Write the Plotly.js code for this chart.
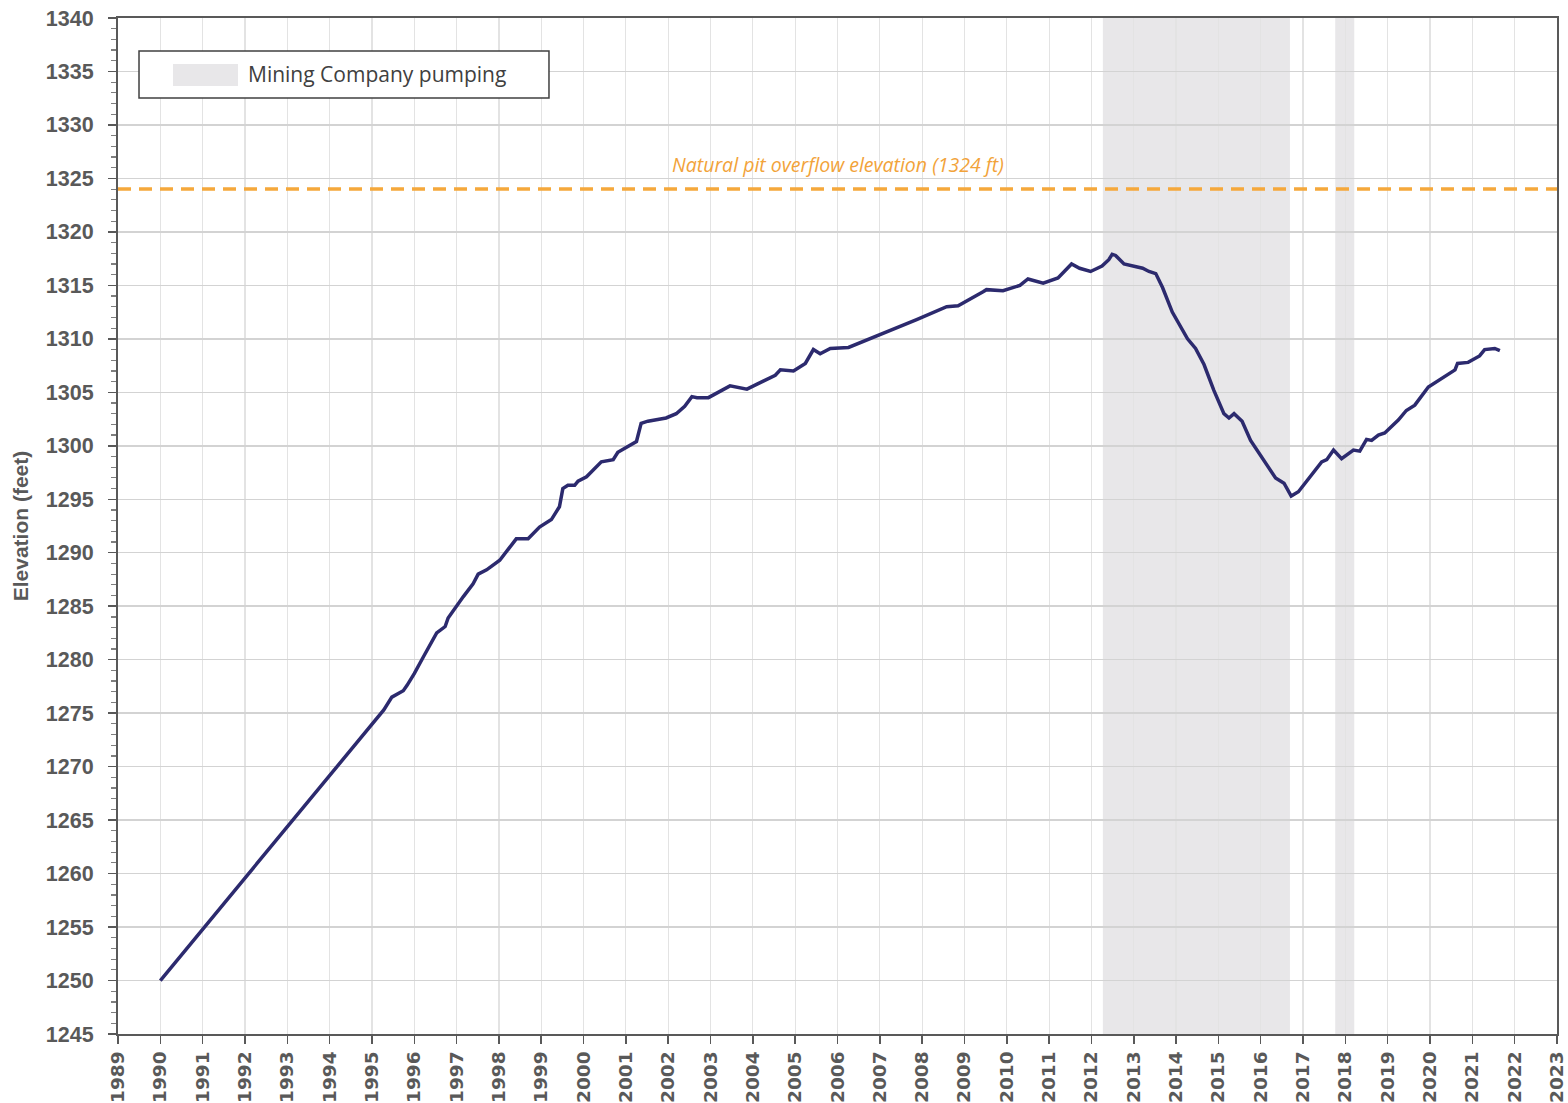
<!DOCTYPE html>
<html>
<head>
<meta charset="utf-8">
<script src="https://cdn.plot.ly/plotly-3.0.1.min.js"></script>
<style>
  html, body { margin: 0; padding: 0; background: #ffffff; }
  #chart { width: 1568px; height: 1103px; }
</style>
</head>
<body>
<div id="chart"></div>
<script>
// ---- Data ----
const years = [
  1990.0, 1994.89, 1995.28, 1995.47, 1995.74, 1995.83, 1996.0, 1996.22, 1996.39, 1996.53,
  1996.73, 1996.80, 1997.16, 1997.39, 1997.51, 1997.71, 1998.02, 1998.18, 1998.41, 1998.69,
  1998.96, 1999.24, 1999.43, 1999.51, 1999.63, 1999.79, 1999.87, 2000.07, 2000.42, 2000.70,
  2000.81, 2001.25, 2001.36, 2001.52, 2001.95, 2002.19, 2002.39, 2002.56, 2002.68, 2002.95,
  2003.46, 2003.86, 2004.33, 2004.53, 2004.65, 2004.96, 2005.24, 2005.43, 2005.59, 2005.83,
  2006.26, 2007.08, 2007.87, 2008.58, 2008.85, 2009.44, 2009.52, 2009.91, 2010.31, 2010.50,
  2010.86, 2011.21, 2011.53, 2011.72, 2011.98, 2012.25, 2012.41, 2012.49, 2012.57, 2012.77,
  2013.01, 2013.21, 2013.36, 2013.52, 2013.68, 2013.91, 2014.27, 2014.46, 2014.66, 2014.89,
  2015.13, 2015.25, 2015.37, 2015.56, 2015.76, 2016.12, 2016.35, 2016.55, 2016.72, 2016.89,
  2017.20, 2017.44, 2017.56, 2017.72, 2017.91, 2018.19, 2018.34, 2018.50, 2018.62, 2018.78,
  2018.93, 2019.25, 2019.44, 2019.64, 2019.96, 2020.11, 2020.27, 2020.47, 2020.59, 2020.65,
  2020.90, 2021.17, 2021.29, 2021.53, 2021.65
];
const elevation = [
  1250.0, 1273.4, 1275.3, 1276.5, 1277.1, 1277.6, 1278.7, 1280.3, 1281.6, 1282.5,
  1283.1, 1283.9, 1285.9, 1287.1, 1288.0, 1288.4, 1289.3, 1290.1, 1291.3, 1291.3,
  1292.4, 1293.1, 1294.3, 1296.0, 1296.3, 1296.3, 1296.7, 1297.1, 1298.5, 1298.7,
  1299.4, 1300.4, 1302.1, 1302.3, 1302.6, 1303.0, 1303.7, 1304.6, 1304.5, 1304.5,
  1305.6, 1305.3, 1306.2, 1306.6, 1307.1, 1307.0, 1307.7, 1309.0, 1308.6, 1309.1,
  1309.2, 1310.5, 1311.8, 1313.0, 1313.1, 1314.4, 1314.6, 1314.5, 1315.0, 1315.6,
  1315.2, 1315.7, 1317.0, 1316.6, 1316.3, 1316.8, 1317.4, 1317.9, 1317.8, 1317.0,
  1316.8, 1316.6, 1316.3, 1316.1, 1314.8, 1312.5, 1310.0, 1309.1, 1307.6, 1305.2,
  1303.0, 1302.6, 1303.0, 1302.3, 1300.5, 1298.4, 1297.0, 1296.5, 1295.3, 1295.7,
  1297.3, 1298.5, 1298.7, 1299.6, 1298.8, 1299.6, 1299.5, 1300.6, 1300.5, 1301.0,
  1301.2, 1302.4, 1303.3, 1303.8, 1305.5, 1305.9, 1306.3, 1306.8, 1307.1, 1307.7,
  1307.8, 1308.4, 1309.0, 1309.1, 1308.9
];
// Mining company pumping periods
const pumpingStart = [2012.27, 2017.76];
const pumpingEnd   = [2016.69, 2018.21];
const pumpingLabel = "Mining Company pumping";
// Natural pit overflow elevation
const overflowElevation = 1324;
const overflowLabel = "Natural pit overflow elevation (1324 ft)";
// Axis ticks
const xTickLabels = ["1989","1990","1991","1992","1993","1994","1995","1996","1997","1998","1999",
  "2000","2001","2002","2003","2004","2005","2006","2007","2008","2009","2010","2011","2012",
  "2013","2014","2015","2016","2017","2018","2019","2020","2021","2022","2023"];
const yTickValues = [1245,1250,1255,1260,1265,1270,1275,1280,1285,1290,1295,1300,1305,1310,1315,1320,1325,1330,1335,1340];

// ---- Styling ----
const axisGray = '#595959';
const lineColor = '#2c2a6e';
const orange = '#F5A83B';
const shadeColor = '#e8e7e9';

const traces = [{
  type: 'scatter',
  mode: 'lines',
  x: years,
  y: elevation,
  line: { color: lineColor, width: 3.5 },
  showlegend: false,
  hoverinfo: 'x+y'
}];

const shapes = [];
for (let i = 0; i < pumpingStart.length; i++) {
  shapes.push({
    type: 'rect', xref: 'x', yref: 'paper',
    x0: pumpingStart[i], x1: pumpingEnd[i], y0: 0, y1: 1,
    fillcolor: shadeColor, line: { width: 0 }, layer: 'below'
  });
}
// overflow line
shapes.push({
  type: 'line', xref: 'paper', yref: 'y',
  x0: 0, x1: 1, y0: overflowElevation, y1: overflowElevation,
  line: { color: orange, width: 3.5, dash: '13px,8px' }, layer: 'above'
});
// legend box (manual)
shapes.push({
  type: 'rect', xref: 'paper', yref: 'paper',
  x0: 0.0146, x1: 0.2995, y0: 0.9213, y1: 0.9675,
  fillcolor: 'rgba(255,255,255,1)', line: { color: '#404040', width: 1.5 }, layer: 'above'
});
shapes.push({
  type: 'rect', xref: 'paper', yref: 'paper',
  x0: 0.0382, x1: 0.0834, y0: 0.9331, y1: 0.9547,
  fillcolor: shadeColor, line: { width: 0 }, layer: 'above'
});

const annotations = [
  {
    xref: 'paper', yref: 'paper', x: 0.0889, y: 0.9445,
    xanchor: 'left', yanchor: 'middle', showarrow: false,
    text: pumpingLabel,
    font: { family: 'Open Sans, Liberation Sans, sans-serif', size: 21, color: '#404040' }
  },
  {
    xref: 'x', yref: 'y', x: 2006.0, y: overflowElevation,
    xanchor: 'center', yanchor: 'bottom', yshift: 9, showarrow: false,
    text: '<i>' + overflowLabel + '</i>',
    font: { family: 'Open Sans, Liberation Sans, sans-serif', size: 19.5, color: '#F2A33A' }
  }
];

const layout = {
  width: 1568, height: 1103,
  margin: { l: 118, r: 11, t: 18, b: 69, pad: 0 },
  paper_bgcolor: '#ffffff',
  plot_bgcolor: '#ffffff',
  showlegend: false,
  xaxis: {
    range: [1989, 2023],
    tickmode: 'array',
    tickvals: xTickLabels.map(Number),
    ticktext: xTickLabels,
    tickangle: -90,
    ticks: 'outside', ticklen: 8, tickwidth: 1.5, tickcolor: axisGray,
    showline: true, linecolor: axisGray, linewidth: 2, mirror: true,
    showgrid: true, gridcolor: '#e3e3e3', gridwidth: 1.2,
    zeroline: false,
    tickfont: { family: 'DejaVu Sans, sans-serif', size: 18.5, color: axisGray, weight: 'bold' }
  },
  yaxis: {
    range: [1245, 1340],
    tickmode: 'array',
    tickvals: yTickValues,
    ticktext: yTickValues.map(String),
    ticks: 'outside', ticklen: 8, tickwidth: 1.5, tickcolor: axisGray,
    minor: { dtick: 1, tick0: 1245, ticks: 'outside', ticklen: 5, tickwidth: 1.2, tickcolor: '#7f7f7f', showgrid: false },
    showline: true, linecolor: axisGray, linewidth: 2, mirror: true,
    showgrid: true, gridcolor: '#d3d3d3', gridwidth: 1.5,
    zeroline: false,
    ticklabelstandoff: 10,
    tickfont: { family: 'Liberation Sans, Arial, sans-serif', size: 21.5, color: axisGray, weight: 'bold' },
    title: {
      text: 'Elevation (feet)',
      standoff: 12,
      font: { family: 'Liberation Sans, Arial, sans-serif', size: 21, color: axisGray, weight: 'bold' }
    }
  },
  shapes: shapes,
  annotations: annotations
};

Plotly.newPlot('chart', traces, layout, { displayModeBar: false, staticPlot: true });
</script>
</body>
</html>
